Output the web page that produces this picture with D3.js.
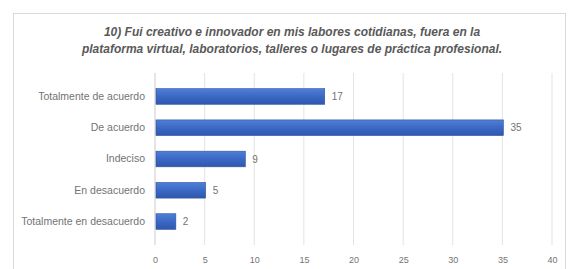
<!DOCTYPE html>
<html>
<head>
<meta charset="utf-8">
<script src="https://cdn.jsdelivr.net/npm/d3@7"></script>
<style>
  body { margin: 0; background: #fff; }
  text { font-family: "Liberation Sans", Arial, sans-serif; }
</style>
</head>
<body>
<div id="chart"></div>
<script>
const categories = ["Totalmente de acuerdo", "De acuerdo", "Indeciso", "En desacuerdo", "Totalmente en desacuerdo"];
const values = [17, 35, 9, 5, 2];
const xTicks = [0, 5, 10, 15, 20, 25, 30, 35, 40];
const titleLines = [
  "10) Fui creativo e innovador en mis labores cotidianas, fuera en la",
  "plataforma virtual, laboratorios, talleres o lugares de práctica profesional."
];

const chartWidth = 569, chartHeight = 269;
const margin = { top: 73, right: 17, bottom: 24, left: 155 };
const width = chartWidth - margin.left - margin.right;
const height = chartHeight - margin.top - margin.bottom;

const root = d3.select("#chart").append("svg")
  .attr("width", chartWidth)
  .attr("height", chartHeight);

// outer frame
root.append("rect")
  .attr("x", 13.5).attr("y", 13.5)
  .attr("width", 552).attr("height", 270)
  .attr("fill", "#fff")
  .attr("stroke", "#d9d9d9");

const defs = root.append("defs");
const grad = defs.append("linearGradient").attr("id", "barGrad")
  .attr("x1", 0).attr("y1", 0).attr("x2", 0).attr("y2", 1);
grad.append("stop").attr("offset", "0%").attr("stop-color", "#4f7fd6");
grad.append("stop").attr("offset", "50%").attr("stop-color", "#3b68c4");
grad.append("stop").attr("offset", "100%").attr("stop-color", "#2f58ae");

root.selectAll(".title")
  .data(titleLines)
  .enter().append("text")
  .attr("class", "title")
  .attr("x", 292)
  .attr("y", (d, i) => 36 + i * 17)
  .attr("text-anchor", "middle")
  .style("font-size", "12px")
  .style("font-weight", "bold")
  .style("font-style", "italic")
  .attr("fill", "#595959")
  .text(d => d);

const svg = root.append("g")
  .attr("transform", `translate(${margin.left}, ${margin.top})`);

const xScale = d3.scaleLinear().domain([0, 40]).range([0, 397]);
const yScale = d3.scaleBand().domain(categories).range([0, height]).padding(0.5);

// gridlines
svg.selectAll(".grid")
  .data(xTicks)
  .enter().append("line")
  .attr("class", "grid")
  .attr("x1", d => xScale(d)).attr("x2", d => xScale(d))
  .attr("y1", 0).attr("y2", height)
  .attr("stroke", "#e3e3e3")
  .attr("stroke-width", 1);

const xAxis = d3.axisBottom(xScale).tickValues(xTicks).tickSize(0).tickPadding(12);
svg.append("g")
  .attr("transform", `translate(0, ${height})`)
  .call(xAxis)
  .call(g => g.select(".domain").remove())
  .selectAll("text")
  .style("font-size", "9px")
  .attr("fill", "#737373");

const yAxis = d3.axisLeft(yScale).tickSize(0).tickPadding(10);
svg.append("g")
  .call(yAxis)
  .call(g => g.select(".domain").remove())
  .selectAll("text")
  .style("font-size", "10.5px")
  .attr("fill", "#737373");

svg.append("line")
  .attr("x1", 0).attr("x2", 0)
  .attr("y1", 0).attr("y2", height)
  .attr("stroke", "#d9d9d9");

svg.selectAll(".bar")
  .data(values)
  .enter().append("rect")
  .attr("class", "bar")
  .attr("x", 1)
  .attr("y", (d, i) => yScale(categories[i]))
  .attr("width", d => xScale(d))
  .attr("height", yScale.bandwidth())
  .attr("fill", "url(#barGrad)")
  .attr("stroke", "#2c52a0")
  .attr("stroke-width", 0.6);

svg.selectAll(".val")
  .data(values)
  .enter().append("text")
  .attr("class", "val")
  .attr("x", d => xScale(d) + 8)
  .attr("y", (d, i) => yScale(categories[i]) + yScale.bandwidth() / 2)
  .attr("dy", "0.35em")
  .style("font-size", "10px")
  .attr("fill", "#737373")
  .text(d => d);
</script>
</body>
</html>
